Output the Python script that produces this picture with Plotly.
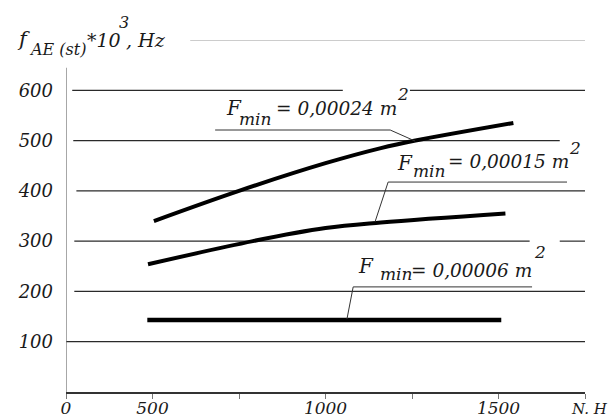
import plotly.graph_objects as go

# ---- data ----
n_024 = [504, 750, 1000, 1160, 1260, 1543]
f_024 = [340, 400, 455, 485, 500, 535]

n_015 = [487, 790, 1000, 1160, 1520]
f_015 = [254, 300, 326, 337, 355]

n_006 = [485, 1508]
f_006 = [143, 143]

x_tickvals = [250, 500, 750, 1000, 1250, 1500, 1750]
x_ticktext = ["0", "500", "", "1000", "", "1500", ""]
y_tickvals = [100, 200, 300, 400, 500, 600]
y_ticktext = ["100", "200", "300", "400", "500", "600"]

area_values = ["0,00024", "0,00015", "0,00006"]

FONT = "DejaVu Serif"
TXT = "#1a1a1a"

fig = go.Figure()
for xs, ys, w in [(n_024, f_024, 4), (n_015, f_015, 4), (n_006, f_006, 4.5)]:
    fig.add_trace(go.Scatter(x=xs, y=ys, mode="lines",
                             line=dict(color="black", width=w, shape="spline", smoothing=1.0),
                             showlegend=False, hoverinfo="skip"))

shapes = []
# gridline segments (x extents in data units, gaps where text sits)
grid_segments = [
    (100, 250, 1750), (200, 274, 1750), (300, 274, 1590), (300, 1677, 1750),
    (400, 280, 1750), (500, 271, 1677), (600, 268, 1050), (600, 1244, 1750),
]
for yv, x0, x1 in grid_segments:
    shapes.append(dict(type="line", xref="x", yref="y", x0=x0, x1=x1, y0=yv, y1=yv,
                       line=dict(color="#2a2a2a", width=1.2), layer="below"))
shapes.append(dict(type="line", xref="x", yref="y", x0=609, x1=1750, y0=700, y1=700,
                   line=dict(color="#9a9a9a", width=1.2), layer="below"))
# y axis line
shapes.append(dict(type="line", xref="x", yref="y", x0=250, x1=250, y0=0, y1=645,
                   line=dict(color="#777777", width=1.3)))
# callout underlines + leaders
for path in ["M681,521 L1187,521 L1259,499",
             "M1698,417.5 L1181,417.5 L1143,338",
             "M1597,209 L1080,209 L1062,145"]:
    shapes.append(dict(type="path", xref="x", yref="y", path=path,
                       line=dict(color="#333333", width=1)))

ann = []
def label(x, y, text, size=18, ref="x", xanchor="left", yanchor="middle"):
    ann.append(dict(x=x, y=y, xref=ref if ref == "x" else "paper",
                    yref="y" if ref == "x" else "paper", text=text, showarrow=False,
                    xanchor=xanchor, yanchor=yanchor,
                    font=dict(family=FONT, size=size, color=TXT, style="italic")))

# callout texts: F, subscript "min", "= value m", superscript 2
callouts = [
    ((706, 565), (745, 543), (852, 563), (1201, 592)),
    ((1200, 455), (1247, 439), (1347, 458), (1697, 485)),
    ((1088, 250), (1152, 235), (1242, 241), (1597, 278)),
]
for val, (pf, pm, pe, p2) in zip(area_values, callouts):
    label(pf[0], pf[1], "F", size=20)
    label(pm[0], pm[1], "min", size=17)
    label(pe[0], pe[1], "= " + val + " m", size=18.5)
    label(p2[0], p2[1], "2", size=17)

# axis title (top-left), paper coordinates
label(-0.098, 1.003, "f", size=21, ref="paper")
label(-0.075, 0.974, "AE (st)", size=16, ref="paper")
label(0.037, 1.0, "*10", size=19, ref="paper")
label(0.098, 1.05, "3", size=16, ref="paper")
label(0.112, 1.001, ", Hz", size=19, ref="paper")

# x unit label
ann.append(dict(x=1750, y=0, xref="x", yref="y", xanchor="left", yanchor="middle",
                xshift=-16, yshift=-17, text="N. H", showarrow=False,
                font=dict(family=FONT, size=15, color=TXT, style="italic")))

fig.update_layout(
    width=612, height=419,
    margin=dict(l=66, r=27, t=40, b=27),
    paper_bgcolor="white", plot_bgcolor="white",
    shapes=shapes, annotations=ann,
    xaxis=dict(range=[250, 1750], tickvals=x_tickvals, ticktext=x_ticktext,
               automargin=False,
               showgrid=False, zeroline=False, showline=True, linecolor="#333333", linewidth=1.5,
               ticks="outside", ticklen=5, tickcolor="#777777", ticklabelstandoff=-5,
               tickfont=dict(family=FONT, size=17, color=TXT, style="italic")),
    yaxis=dict(range=[0, 700], tickvals=y_tickvals, ticktext=y_ticktext,
               automargin=False,
               showgrid=False, zeroline=False, showline=False, ticks="",
               ticklabelstandoff=12,
               tickfont=dict(family=FONT, size=18, color=TXT, style="italic")),
)

fig.write_html("out.html", config={"displayModeBar": False},
               post_script="document.body.style.margin='0';document.body.style.overflow='hidden';")
